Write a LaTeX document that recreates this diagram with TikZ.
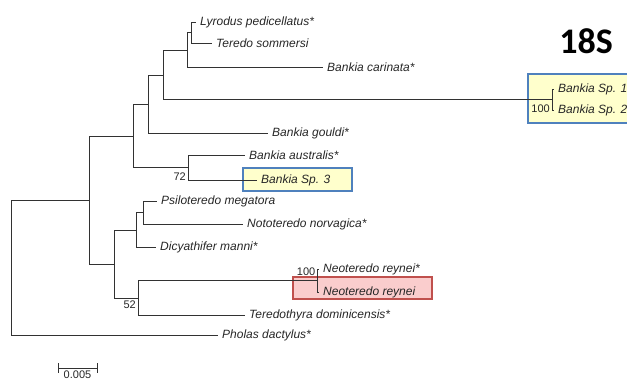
\documentclass[tikz,border=0pt]{standalone}
\usepackage{fontspec}
\setmainfont{Liberation Sans}
\newfontfamily\headfont{Carlito}
\usetikzlibrary{positioning,calc}

\definecolor{boxblue}{RGB}{79,129,189}
\definecolor{boxyellow}{RGB}{255,255,204}
\definecolor{boxred}{RGB}{192,80,77}
\definecolor{boxpink}{RGB}{250,205,205}
\definecolor{treegray}{RGB}{50,50,50}

\tikzset{
  branch/.style={treegray,line width=1pt},
  leaf/.style={anchor=west,inner xsep=4pt,inner ysep=1pt,
    font=\fontsize{12}{14}\selectfont\itshape,text=black!85},
  boot/.style={inner sep=0pt,font=\fontsize{11}{13}\selectfont,text=black!85},
  seqbox/.style={draw=boxblue,fill=boxyellow,line width=1.6pt},
  seqboxred/.style={draw=boxred,fill=boxpink,line width=1.6pt},
}

\begin{document}
\begin{tikzpicture}[x=1pt,y=-1pt]
  \useasboundingbox (0,0) rectangle (627,381);
  % highlight boxes
  \draw[seqbox] (528,74) rectangle (640,123);
  \draw[seqbox] (243,168) rectangle (352,191);
  \draw[seqboxred] (293,277) rectangle (432,299);
  % tips
  \node[leaf] (lyr) at (196,22) {Lyrodus pedicellatus*};
  \node[leaf] (ter) at (212,43) {Teredo sommersi};
  \node[leaf] (car) at (323,67) {Bankia carinata*};
  \node[leaf] (spA) at (554,89) {Bankia Sp. 1};
  \node[leaf] (spB) at (554,110) {Bankia Sp. 2};
  \node[leaf] (gou) at (268,133) {Bankia gouldi*};
  \node[leaf] (aus) at (245,155) {Bankia australis*};
  \node[leaf] (spC) at (257,180) {Bankia Sp. 3};
  \node[leaf] (psi) at (157,201) {Psiloteredo megatora};
  \node[leaf] (not) at (243,224) {Nototeredo norvagica*};
  \node[leaf] (dic) at (156,247) {Dicyathifer manni*};
  \node[leaf] (neoA) at (319,269) {Neoteredo reynei*};
  \node[leaf] (neoB) at (319,292) {Neoteredo reynei};
  \node[leaf] (tdo) at (245,315) {Teredothyra dominicensis*};
  \node[leaf] (pho) at (218,335) {Pholas dactylus*};
  % internal nodes
  \coordinate (root) at (11,267.5);
  \coordinate (nI) at (89,200);
  \coordinate (nA) at (133,136);
  \coordinate (nB) at (148,104);
  \coordinate (nC) at (163,75);
  \coordinate (nD) at (187,50);
  \coordinate (nE) at (191,32.5);
  \coordinate (nF) at (552,99.5);
  \coordinate (nG) at (188,167.5);
  \coordinate (nH) at (114,264);
  \coordinate (nJ) at (136,230);
  \coordinate (nK) at (143,212.5);
  \coordinate (nL) at (138,298);
  \coordinate (nM) at (317,280.5);
  % branches
  \draw[branch] (root) |- (nI) (root) |- (pho);
  \draw[branch] (nI) |- (nA) (nI) |- (nH);
  \draw[branch] (nA) |- (nB) (nA) |- (nG);
  \draw[branch] (nB) |- (nC) (nB) |- (gou);
  \draw[branch] (nC) |- (nD) (nC) |- (nF);
  \draw[branch] (nD) |- (nE) (nD) |- (car);
  \draw[branch] (nE) |- (lyr) (nE) |- (ter);
  \draw[branch] (nF) |- (spA) (nF) |- (spB);
  \draw[branch] (nG) |- (aus) (nG) |- (spC);
  \draw[branch] (nH) |- (nJ) (nH) |- (nL);
  \draw[branch] (nJ) |- (nK) (nJ) |- (dic);
  \draw[branch] (nK) |- (psi) (nK) |- (not);
  \draw[branch] (nL) |- (nM) (nL) |- (tdo);
  \draw[branch] (nM) |- (neoA) (nM) |- (neoB);
  % support values
  \node[boot,anchor=east] (bs72) at (186,177) {72};
  \node[boot,anchor=east] (bs52) at (136,305) {52};
  \node[boot,anchor=east] (bsNeo) at (315.5,272) {100};
  \node[boot,anchor=east] (bsSp) at (550,109) {100};
  % scale bar
  \coordinate (sbl) at (58,368);
  \coordinate (sbr) at (97,368);
  \draw[branch] (sbl) -- (sbr);
  \draw[branch] ($(sbl)+(0,-5)$) -- ($(sbl)+(0,5)$);
  \draw[branch] ($(sbr)+(0,-5)$) -- ($(sbr)+(0,5)$);
  \node[boot,anchor=north] (sblab) at ($(sbl)!0.5!(sbr)+(0,3)$) {0.005};
  % gene label
  \node[font=\fontsize{36}{40}\selectfont\headfont\bfseries] (gene) at (586,41) {18S};
\end{tikzpicture}
\end{document}
